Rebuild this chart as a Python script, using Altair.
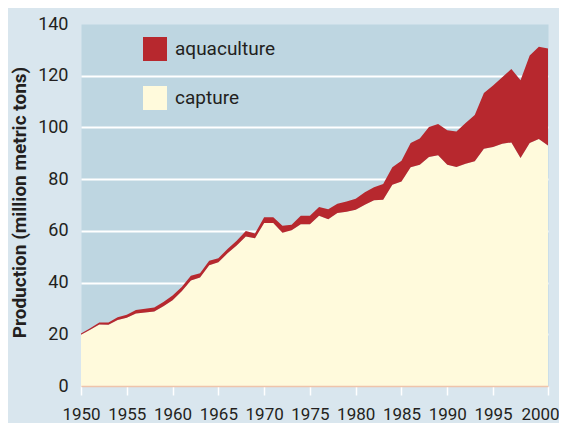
import altair as alt
import pandas as pd

# ---- data ----
years = list(range(1950, 2002))

capture = [19.8, 21.8, 23.8, 23.7, 25.5, 26.4, 28.0, 28.4, 28.8, 30.8,
           33.2, 36.6, 40.8, 42.0, 46.7, 47.9, 51.3, 54.3, 57.8, 57.1,
           63.0, 63.0, 59.3, 60.2, 62.6, 62.6, 65.8, 64.5, 66.9, 67.4,
           68.2, 70.1, 71.8, 72.0, 77.8, 79.1, 84.6, 85.6, 88.6, 89.2,
           85.6, 84.7, 86.0, 86.9, 91.8, 92.4, 93.7, 94.2, 88.2, 94.0,
           95.5, 93.0]

aquaculture = [0.5, 0.5, 0.8, 0.9, 1.1, 1.2, 1.4, 1.5, 1.6, 1.7,
               1.8, 1.7, 1.8, 1.6, 1.7, 1.5, 1.7, 1.9, 2.1, 1.9,
               2.3, 2.3, 2.7, 2.2, 3.2, 3.2, 3.4, 3.9, 3.6, 4.0,
               4.2, 4.8, 5.1, 6.1, 6.8, 8.0, 9.4, 10.1, 11.6, 12.1,
               13.3, 13.7, 15.7, 17.9, 21.5, 23.8, 25.7, 28.4, 30.0, 33.8,
               35.7, 37.5]

series_names = ["aquaculture", "capture"]
series_colors = ["#b7282e", "#fffadc"]

x_tick_values = [1950, 1955, 1960, 1965, 1970, 1975, 1980, 1985, 1990, 1995, 2001]
y_tick_values = [0, 20, 40, 60, 80, 100, 120, 140]

rows = []
for i, yr in enumerate(years):
    rows.append({"year": yr, "type": "capture", "rank": 0, "value": capture[i]})
    rows.append({"year": yr, "type": "aquaculture", "rank": 1, "value": aquaculture[i]})
df = pd.DataFrame(rows)

FONT = "Roboto, sans-serif"
TXT = "#231f20"

chart = alt.Chart(df).mark_area(opacity=1).encode(
    x=alt.X(
        "year:Q",
        scale=alt.Scale(domain=[1950, 2001], nice=False, zero=False),
        axis=alt.Axis(
            values=x_tick_values,
            labelExpr="datum.value == 2001 ? '2000' : '' + datum.value",
            title=None,
            grid=False,
            domainColor="#efc4ab",
            domainWidth=1.5,
            tickColor="white",
            tickWidth=1.5,
            tickSize=9,
            labelFont=FONT,
            labelFontSize=17,
            labelColor=TXT,
            labelPadding=11,
            labelOffset={"condition": {"test": "datum.value == 2001", "value": -8},
                         "value": 0},
            labelFlush=False,
            labelOverlap=False,
            zindex=1,
        ),
    ),
    y=alt.Y(
        "value:Q",
        stack="zero",
        scale=alt.Scale(domain=[0, 140], nice=False),
        axis=alt.Axis(
            values=y_tick_values,
            title="Production (million metric tons)",
            titleFont=FONT,
            titleFontSize=19,
            titleFontWeight="bold",
            titleColor=TXT,
            titleAngle=270,
            titleAlign="center",
            titleBaseline="middle",
            titleX=-62,
            titleY=178,
            domain=False,
            ticks=False,
            tickSize=0,
            grid=True,
            gridColor={"condition": {"test": "datum.value >= 140 || datum.value <= 0",
                                     "value": "transparent"},
                       "value": "white"},
            gridWidth=2,
            labelFont=FONT,
            labelFontSize=18,
            labelColor=TXT,
            labelPadding=13,
        ),
    ),
    color=alt.Color(
        "type:N",
        scale=alt.Scale(domain=series_names, range=series_colors),
        title=None,
        legend=alt.Legend(
            orient="none",
            legendX=62,
            legendY=13,
            symbolType="square",
            symbolSize=576,
            symbolStrokeWidth=0,
            symbolOpacity=1,
            labelFont=FONT,
            labelFontSize=19,
            labelColor=TXT,
            labelOffset=8,
            rowPadding=25,
            padding=0,
        ),
    ),
    order=alt.Order("rank:Q", sort="ascending"),
).properties(
    width=467,
    height=362,
    padding={"left": 73, "top": 16, "right": 11, "bottom": 37},
    autosize=alt.AutoSizeParams(type="none"),
    background="#d9e6ee",
).configure_view(
    fill="#bed6e1",
    strokeOpacity=0,
)

chart.save("out.html", embed_options={"renderer": "svg", "actions": False})
